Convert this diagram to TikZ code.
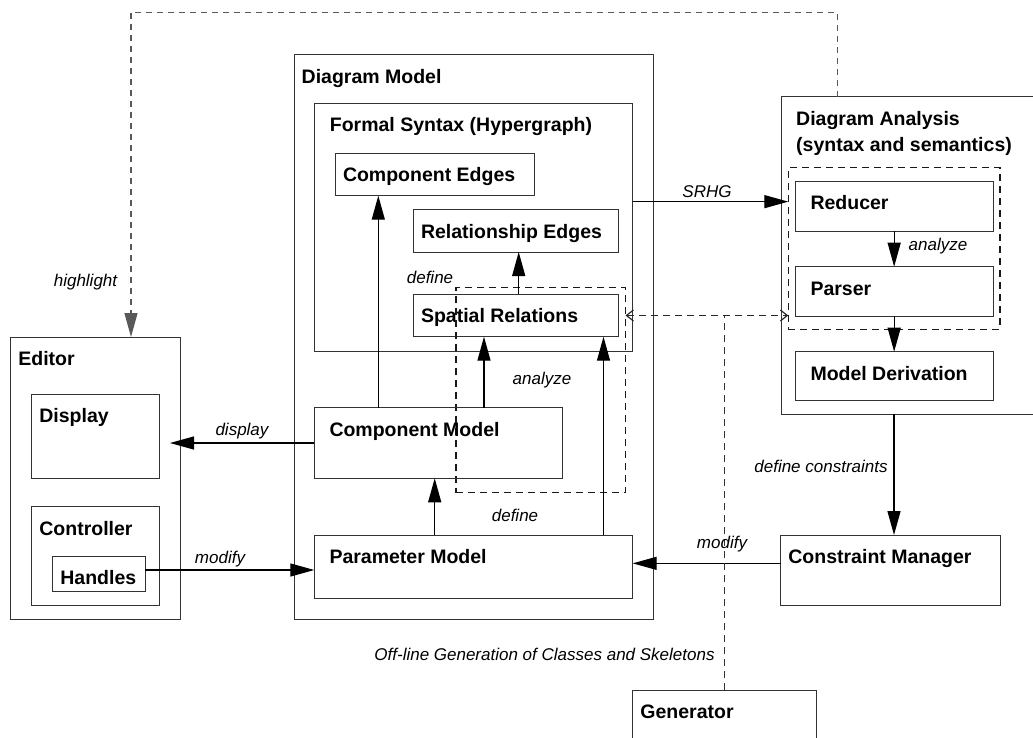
\documentclass[tikz,border=0pt]{standalone}
\usepackage{fontspec}
\setmainfont{Liberation Sans}
\usetikzlibrary{arrows.meta}
\newcommand{\boxfont}{\bfseries\fontsize{19.5}{26.7}\selectfont}
\newcommand{\edgefont}{\itshape\fontsize{17}{20}\selectfont}

\begin{document}
\begin{tikzpicture}[x=1pt,y=-1pt]
    % Define styles
    \tikzstyle{block} = [draw=black!80, line width=1pt, anchor=north west, inner sep=0pt, outer sep=0pt]
    \tikzstyle{group} = [draw=black!90, line width=1.2pt, dash pattern=on 7pt off 5pt, anchor=north west, inner sep=0pt, outer sep=0pt]
    \tikzstyle{boxname} = [anchor=base west, inner sep=0pt, font=\boxfont, xshift=7.5pt, yshift=-28.5pt]
    \tikzstyle{boxnamein} = [anchor=base west, inner sep=0pt, font=\boxfont, xshift=15pt, yshift=-28.5pt]
    \tikzstyle{edgetext} = [anchor=base, inner sep=0pt, font=\edgefont]
    \tikzstyle{arrow} = [line width=1.3pt, -{Triangle[length=24pt,width=13pt]}]
    \tikzstyle{link} = [line width=1.2pt, black!85, dash pattern=on 7pt off 5pt, {Straight Barb[length=7pt,width=11pt]}-{Straight Barb[length=7pt,width=11pt]}]
    \tikzstyle{hlarrow} = [line width=1.2pt, black!65, dash pattern=on 6pt off 5pt, -{Triangle[length=24pt,width=13pt]}]
    \tikzstyle{genline} = [line width=1.2pt, black!80, dash pattern=on 7pt off 5pt]

    \useasboundingbox (0,0) rectangle (1033,738);

    % Editor
    \node (editor) [block, minimum width=169.3, minimum height=282, label={[boxname]north west:Editor}] at (10.7,337) {};
    \node (display) [block, minimum width=127.3, minimum height=84, label={[boxname]north west:Display}] at (31.7,394) {};
    \node (controller) [block, minimum width=127.3, minimum height=99, label={[boxname]north west:Controller}] at (31.7,506.7) {};
    \node (handles) [block, minimum width=92.6, minimum height=35.4, label={[boxname]north west:Handles}] at (52.7,556.3) {};

    % Diagram model
    \node (dmodel) [block, minimum width=359, minimum height=564, label={[boxname]north west:Diagram Model}] at (294,55) {};
    \node (formal) [block, minimum width=318, minimum height=248.4, label={[boxnamein]north west:Formal Syntax (Hypergraph)}] at (314.7,103.3) {};
    \node (cedges) [block, minimum width=198.7, minimum height=42.4, label={[boxname]north west:Component Edges}] at (335.3,153.3) {};
    \node (redges) [block, minimum width=205.4, minimum height=42, label={[boxname]north west:Relationship Edges}] at (413.3,210) {};
    \node (spatial) [block, minimum width=205.4, minimum height=42.4, label={[boxname]north west:Spatial Relations}] at (413.3,294.3) {};
    \node (sgroup) [group, minimum width=169.5, minimum height=205] at (456,287.5) {};
    \node (cmodel) [block, minimum width=248, minimum height=70.6, label={[boxnamein]north west:Component Model}] at (314.3,407.7) {};
    \node (param) [block, minimum width=318.4, minimum height=63.7, label={[boxnamein]north west:Parameter Model}] at (314.3,535) {};

    % Diagram analysis
    \node (analysis) [block, minimum width=259, minimum height=317.3, label={[boxnamein, align=left, yshift=-26.7pt]north west:Diagram Analysis\\(syntax and semantics)}] at (781,96.7) {};
    \node (agroup) [group, minimum width=211.7, minimum height=161.6] at (788.3,167.7) {};
    \node (reducer) [block, minimum width=197.7, minimum height=49.7, label={[boxnamein]north west:Reducer}] at (795.3,181.3) {};
    \node (parser) [block, minimum width=197.7, minimum height=49.3, label={[boxnamein]north west:Parser}] at (795.3,266.7) {};
    \node (derive) [block, minimum width=197.7, minimum height=49, label={[boxnamein]north west:Model Derivation}] at (795.3,351.7) {};

    \node (cmanager) [block, minimum width=219.6, minimum height=70.3, label={[boxname]north west:Constraint Manager}] at (780.7,535) {};
    \node (generator) [block, minimum width=183.6, minimum height=70, label={[boxname]north west:Generator}] at (632.7,690) {};

    % Connectors
    \draw [arrow] ([xshift=64pt]cmodel.north west) -- ([xshift=64pt]cmodel.north west |- cedges.south);
    \draw [arrow] ([xshift=169.7pt]cmodel.north west) -- ([xshift=169.7pt]cmodel.north west |- spatial.south);
    \draw [arrow] ([xshift=289.2pt]param.north west) -- ([xshift=289.2pt]param.north west |- spatial.south);
    \draw [arrow] ([xshift=120.4pt]param.north west) -- ([xshift=120.4pt]param.north west |- cmodel.south);
    \draw [arrow] ([xshift=2.7pt]spatial.north) -- ([xshift=2.7pt]spatial.north |- redges.south);
    \draw [arrow, shorten >=11pt] (cmodel.west) -- (cmodel.west -| display.east);
    \draw [arrow] ([yshift=4pt]handles.east) -- ([yshift=4pt]handles.east -| param.west);
    \draw [arrow] ([yshift=6.8pt]cmanager.west) -- ([yshift=6.8pt]cmanager.west -| param.east);
    \draw [arrow] ([yshift=4.5pt]reducer.west -| formal.east) -- ([yshift=4.5pt]reducer.west -| agroup.west);
    \draw [arrow] (reducer.south) -- (parser.north);
    \draw [arrow] (parser.south) -- (derive.north);
    \draw [arrow] ([xshift=3.5pt]cmanager.north |- analysis.south) -- ([xshift=3.5pt]cmanager.north);
    \draw [link] (spatial.east -| sgroup.east) -- (spatial.east -| agroup.west);
    \draw [genline] (generator.north) -- (generator.north |- spatial.east);
    \coordinate (hlright) at (837.7,12.3);
    \coordinate (hlleft) at (131,12.3);
    \draw [hlarrow] (hlright |- analysis.north) -- (hlright) -- (hlleft) -- (hlleft |- editor.north);

    % Connector labels
    \node (t1) [edgetext] at (707,197) {SRHG};
    \node (t2) [edgetext] at (430,283) {define};
    \node (t3) [edgetext] at (542,384) {analyze};
    \node (t4) [edgetext] at (515,521.7) {define};
    \node (t5) [edgetext] at (938,250.5) {analyze};
    \node (t6) [edgetext] at (242,435) {display};
    \node (t7) [edgetext] at (220,563) {modify};
    \node (t8) [edgetext] at (722,548) {modify};
    \node (t9) [edgetext] at (821,472.7) {define constraints};
    \node (t10) [edgetext] at (85.5,286) {highlight};
    \node (t11) [edgetext] at (544.5,660) {Off-line Generation of Classes and Skeletons};
\end{tikzpicture}
\end{document}
